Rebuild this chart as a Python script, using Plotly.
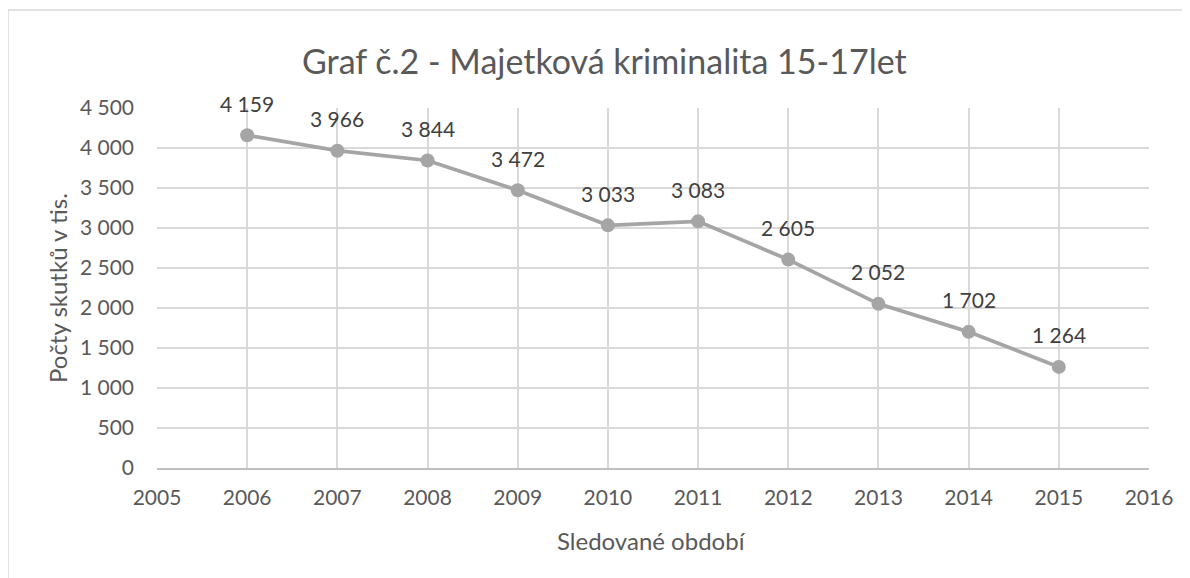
import plotly.graph_objects as go

years = [2006, 2007, 2008, 2009, 2010, 2011, 2012, 2013, 2014, 2015]
counts = [4159, 3966, 3844, 3472, 3033, 3083, 2605, 2052, 1702, 1264]
y_ticks = [0, 500, 1000, 1500, 2000, 2500, 3000, 3500, 4000, 4500]
x_ticks = list(range(2005, 2017))

title_text = "Graf č.2 - Majetková kriminalita 15-17let"
x_title = "Sledované období"
y_title = "Počty skutků v tis."

def fmt(v):
    return f"{v:,}".replace(",", " ")

labels = [fmt(v) for v in counts]
y_tick_text = [fmt(v) for v in y_ticks]

FONT = "Lato"
TXT = "#595959"
GRID = "#D9D9D9"

W, H = 1190, 578
L, R, T, B = 149, 49, 100, 118
pw, ph = W - L - R, H - T - B

def px_x(px):
    return (px - L) / pw

def px_y(py):
    return 1 - (py - T) / ph

fig = go.Figure()
fig.add_trace(go.Scatter(
    x=years, y=counts, mode="lines+markers",
    line=dict(color="#A5A5A5", width=3.75),
    marker=dict(color="#A5A5A5", size=14),
    cliponaxis=False, showlegend=False, hoverinfo="x+y",
))

annotations = []
for x, y, t in zip(years, counts, labels):
    annotations.append(dict(
        x=x, y=y, xref="x", yref="y", text=t, showarrow=False,
        yshift=32, xanchor="center", yanchor="middle",
        font=dict(family=FONT, size=21, color="#404040"),
    ))

annotations += [
    dict(text=title_text, xref="paper", yref="paper", x=px_x(596), y=px_y(52),
         xanchor="center", yanchor="middle", showarrow=False,
         font=dict(family=FONT, size=34, color=TXT)),
    dict(text=x_title, xref="paper", yref="paper", x=px_x(643), y=px_y(532),
         xanchor="center", yanchor="middle", showarrow=False,
         font=dict(family=FONT, size=24, color=TXT)),
    dict(text=y_title, xref="paper", yref="paper", x=px_x(49), y=px_y(280),
         xanchor="center", yanchor="middle", showarrow=False, textangle=-90,
         font=dict(family=FONT, size=24, color=TXT)),
]

fig.update_layout(
    width=W, height=H,
    margin=dict(l=L, r=R, t=T, b=B, autoexpand=False),
    paper_bgcolor="white", plot_bgcolor="white",
    font=dict(family=FONT, color=TXT),
    xaxis=dict(
        range=[2005, 2016], tickvals=x_ticks, ticktext=[str(v) for v in x_ticks],
        showgrid=True, gridcolor=GRID, gridwidth=1.5,
        showline=True, linecolor="#BFBFBF", linewidth=1.5, mirror=False,
        zeroline=False, ticks="", tickfont=dict(family=FONT, size=21, color=TXT),
        ticklabelstandoff=10, automargin=False,
    ),
    yaxis=dict(
        range=[0, 4500], tickvals=y_ticks, ticktext=y_tick_text,
        showgrid=True, gridcolor=GRID, gridwidth=1.5,
        showline=False, zeroline=False, ticks="",
        tickfont=dict(family=FONT, size=21, color=TXT),
        ticklabelstandoff=22, automargin=False,
    ),
    annotations=annotations,
    shapes=[dict(
        type="rect", xref="paper", yref="paper",
        x0=px_x(0), x1=px_x(W + 20),
        y0=px_y(H + 20), y1=px_y(2),
        line=dict(color=GRID, width=1.5), fillcolor="rgba(0,0,0,0)", layer="below",
    )],
)

fig.write_html("out.html")
